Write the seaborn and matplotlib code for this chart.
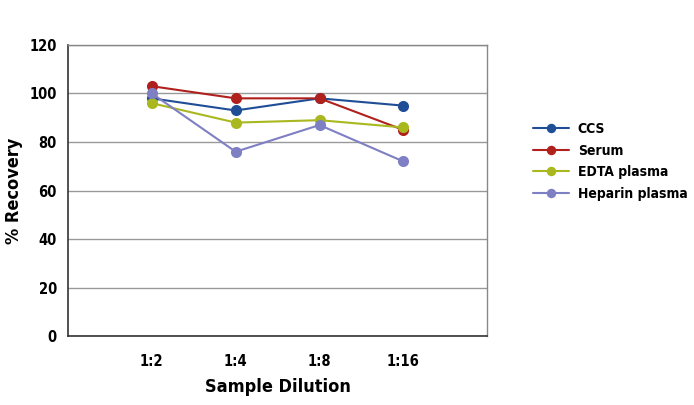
import matplotlib
matplotlib.use("Agg")
import matplotlib.pyplot as plt
import pandas as pd
import seaborn as sns

# values
dilutions = ['1:2', '1:4', '1:8', '1:16']
ccs = [98, 93, 98, 95]
serum = [103, 98, 98, 85]
edta_plasma = [96, 88, 89, 86]
heparin_plasma = [100, 76, 87, 72]

series_names = ['CCS', 'Serum', 'EDTA plasma', 'Heparin plasma']
colors = ['#1f4e96', '#b0201c', '#a8b81e', '#7f7fc4']

sns.set_style('white')
plt.rcParams['font.family'] = ['DejaVu Sans']
plt.rcParams['font.stretch'] = 'condensed'
plt.rcParams['font.weight'] = 'bold'
plt.rcParams['text.color'] = 'black'
plt.rcParams['axes.labelcolor'] = 'black'
plt.rcParams['xtick.color'] = 'black'
plt.rcParams['ytick.color'] = 'black'

data = pd.DataFrame({'Dilution': dilutions, 'CCS': ccs, 'Serum': serum,
                     'EDTA plasma': edta_plasma, 'Heparin plasma': heparin_plasma})
long_data = data.melt(id_vars='Dilution', var_name='Sample', value_name='Recovery')
long_data['pos'] = long_data['Dilution'].map({d: i + 1 for i, d in enumerate(dilutions)})

fig = plt.figure(figsize=(6.94, 4.05), dpi=100)
ax = fig.add_axes([0.098, 0.170, 0.604, 0.719])

sns.lineplot(data=long_data, x='pos', y='Recovery', hue='Sample', hue_order=series_names,
             palette=colors, marker='o', markersize=8, markeredgewidth=0,
             linewidth=1.5, ax=ax)

ax.set_xlim(0, 5)
ax.set_ylim(0, 120)
ax.set_yticks(range(0, 121, 20))
ax.set_xticks(range(1, 5))
ax.set_xticklabels(dilutions)
ax.yaxis.grid(True, color='#999999', linewidth=1)
ax.set_axisbelow(True)

for side in ['left', 'bottom']:
    ax.spines[side].set_color('#333333')
    ax.spines[side].set_linewidth(1.2)
for side in ['top', 'right']:
    ax.spines[side].set_color('#888888')
    ax.spines[side].set_linewidth(1)

ax.tick_params(axis='x', direction='out', length=5, color='#333333', pad=8, labelsize=10.5)
ax.tick_params(axis='y', direction='out', length=5, color='#333333', pad=3, labelsize=10.5)
for label in ax.get_xticklabels() + ax.get_yticklabels():
    label.set_fontweight('bold')
    label.set_fontstretch('condensed')

ax.set_xlabel('Sample Dilution', fontsize=13, fontweight='bold', labelpad=6)
ax.set_ylabel('% Recovery', fontsize=13, fontweight='bold', labelpad=5)

leg = ax.legend(loc='center left', bbox_to_anchor=(1.08, 0.6), frameon=False,
                fontsize=10, handlelength=2.6, labelspacing=0.55, handletextpad=0.6,
                markerscale=0.85)
for t in leg.get_texts():
    t.set_fontweight('bold')
    t.set_fontstretch('condensed')

fig.savefig('out.png', dpi=100)
